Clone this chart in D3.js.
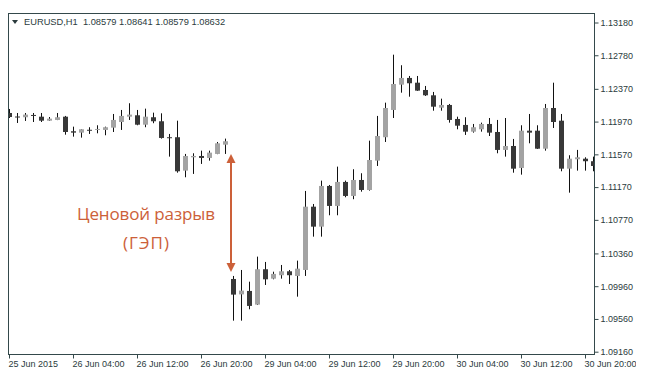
<!DOCTYPE html>
<head>
    <meta charset="utf-8">
    <title>EURUSD H1 gap</title>
    <script src="https://d3js.org/d3.v7.min.js"></script>
    <style>
        body { margin: 0; background: #fff; }
        svg { display: block; }
        .axis text { font-family: "Liberation Sans", Arial, sans-serif; font-size: 9px; fill: #2b3b3d; }
        .axis line { stroke: #34494b; }
    </style>
</head>
<body>
    <svg></svg>
</body>

<script>
    var vWidth = 660;
    var vHeight = 384;

    // EURUSD H1, 25 Jun 2015 20:00 .. 30 Jun 2015 21:00 (one bar per hour, weekend skipped)
    var opens = [
        1.12075, 1.12032, 1.12023, 1.12051, 1.12030, 1.11981, 1.11990, 1.12030, 1.11852, 1.11835,
        1.11870, 1.11868, 1.11868, 1.11896, 1.11965, 1.12030, 1.12047, 1.11932, 1.12023, 1.11974,
        1.11779, 1.11779, 1.11371, 1.11534, 1.11550, 1.11526, 1.11575, 1.11688, 1.10048, 1.09860,
        1.09902, 1.09735, 1.10167, 1.10052, 1.10094, 1.10142, 1.10085, 1.10158, 1.10931, 1.10687,
        1.11184, 1.10940, 1.11233, 1.11062, 1.11257, 1.11135, 1.11493, 1.11779, 1.12112, 1.12421,
        1.12503, 1.12445, 1.12356, 1.12291, 1.12140, 1.12173, 1.12002, 1.11929, 1.11847, 1.11876,
        1.11941, 1.11843, 1.11624, 1.11672, 1.11404, 1.11859, 1.11859, 1.11639, 1.12136, 1.11981,
        1.11395, 1.11510, 1.11517, 1.11486];
    var highs = [
        1.12124, 1.12075, 1.12075, 1.12075, 1.12075, 1.12026, 1.12075, 1.12039, 1.11908, 1.11876,
        1.11901, 1.11925, 1.11908, 1.12063, 1.12112, 1.12194, 1.12112, 1.12128, 1.12079, 1.12071,
        1.11819, 1.11981, 1.11575, 1.11583, 1.11615, 1.11615, 1.11721, 1.11762, 1.10085, 1.10158,
        1.10015, 1.10321, 1.10256, 1.10137, 1.10219, 1.10158, 1.10272, 1.11123, 1.10964, 1.11249,
        1.11196, 1.11420, 1.11249, 1.11388, 1.11339, 1.11737, 1.12039, 1.12201, 1.12787, 1.12658,
        1.12527, 1.12527, 1.12405, 1.12332, 1.12250, 1.12185, 1.12030, 1.12023, 1.11941, 1.11957,
        1.12014, 1.11990, 1.12014, 1.11758, 1.11925, 1.12063, 1.11925, 1.12185, 1.12445, 1.12063,
        1.11559, 1.11624, 1.11534, 1.11542];
    var lows = [
        1.12014, 1.11953, 1.11978, 1.11965, 1.11965, 1.11978, 1.11988, 1.11810, 1.11786, 1.11774,
        1.11819, 1.11827, 1.11803, 1.11843, 1.11868, 1.11990, 1.11925, 1.11901, 1.11950, 1.11762,
        1.11542, 1.11346, 1.11290, 1.11331, 1.11453, 1.11493, 1.11572, 1.11575, 1.09539, 1.09539,
        1.09678, 1.09730, 1.09975, 1.10044, 1.10052, 1.09987, 1.09832, 1.10085, 1.10565, 1.10565,
        1.10826, 1.10826, 1.11046, 1.11022, 1.11114, 1.11127, 1.11428, 1.11721, 1.12014, 1.12323,
        1.12274, 1.12345, 1.12283, 1.12103, 1.12103, 1.11957, 1.11876, 1.11807, 1.11835, 1.11847,
        1.11794, 1.11583, 1.11542, 1.11346, 1.11322, 1.11705, 1.11636, 1.11615, 1.11892, 1.11363,
        1.11102, 1.11371, 1.11371, 1.11363];
    var closes = [
        1.12026, 1.12028, 1.12055, 1.12047, 1.11981, 1.12006, 1.12023, 1.11843, 1.11835, 1.11876,
        1.11866, 1.11880, 1.11901, 1.11990, 1.12039, 1.12055, 1.11932, 1.12030, 1.11974, 1.11770,
        1.11775, 1.11363, 1.11550, 1.11550, 1.11526, 1.11591, 1.11705, 1.11730, 1.09857, 1.09906,
        1.09719, 1.10167, 1.10044, 1.10110, 1.10142, 1.10094, 1.10174, 1.10931, 1.10687, 1.11184,
        1.10940, 1.11233, 1.11062, 1.11257, 1.11135, 1.11501, 1.11794, 1.12136, 1.12429, 1.12503,
        1.12438, 1.12348, 1.12291, 1.12152, 1.12173, 1.11990, 1.11920, 1.11847, 1.11901, 1.11941,
        1.11835, 1.11624, 1.11672, 1.11395, 1.11859, 1.11835, 1.11639, 1.12136, 1.11965, 1.11395,
        1.11517, 1.11534, 1.11486, 1.11428];

    // one time label every 8 bars
    var timeLabels = ['25 Jun 2015', '26 Jun 04:00', '26 Jun 12:00', '26 Jun 20:00', '29 Jun 04:00',
        '29 Jun 12:00', '29 Jun 20:00', '30 Jun 04:00', '30 Jun 12:00', '30 Jun 20:00'];
    var priceTicks = [1.13180, 1.12780, 1.12370, 1.11970, 1.11570, 1.11170, 1.10770,
        1.10360, 1.09960, 1.09560, 1.09160];

    var header = 'EURUSD,H1  1.08579 1.08641 1.08579 1.08632';
    var noteLines = ['Ценовой разрыв', '(ГЭП)'];
    var gapBar = 28; // first bar after the weekend

    var frame = { left: 8, top: 13, right: 594, bottom: 354 };
    var bullColor = '#a3a3a3';
    var bearColor = '#383838';
    var noteColor = '#cc6039';

    var svg = d3.select('svg').attr('width', vWidth).attr('height', vHeight);

    var vBars = opens.map(function (o, i) {
        return { i: i, o: o, h: highs[i], l: lows[i], c: closes[i] };
    });

    var x = d3.scaleLinear().domain([0, 73]).range([9, 593]);
    var y = d3.scaleLinear().domain([1.0916, 1.1318]).range([351.7, 22.5]);

    svg.append('clipPath').attr('id', 'plot')
        .append('rect')
        .attr('x', frame.left).attr('y', frame.top)
        .attr('width', frame.right - frame.left).attr('height', frame.bottom - frame.top);

    svg.append('clipPath').attr('id', 'labels')
        .append('rect').attr('x', 0).attr('y', 0).attr('width', 636).attr('height', vHeight);

    // Candles
    var g = svg.append('g').attr('clip-path', 'url(#plot)');
    var vCandles = g.selectAll('g').data(vBars).enter().append('g');

    vCandles.append('line')
        .attr('x1', function (d) { return x(d.i) + 0.5; })
        .attr('x2', function (d) { return x(d.i) + 0.5; })
        .attr('y1', function (d) { return y(d.h); })
        .attr('y2', function (d) { return y(d.l); })
        .style('stroke', '#111')
        .style('stroke-width', 1);

    vCandles.append('rect')
        .attr('x', function (d) { return x(d.i) - 2; })
        .attr('width', 5)
        .attr('y', function (d) { return y(Math.max(d.o, d.c)); })
        .attr('height', function (d) { return Math.max(1, y(Math.min(d.o, d.c)) - y(Math.max(d.o, d.c))); })
        .style('fill', function (d) { return d.c > d.o ? bullColor : bearColor; });

    // Axes
    var xAxis = d3.axisBottom(x)
        .tickValues(d3.range(0, 73, 8))
        .tickFormat(function (d) { return timeLabels[d / 8]; })
        .tickSize(4).tickPadding(2);
    var gx = svg.append('g').attr('class', 'axis')
        .attr('transform', 'translate(0,' + (frame.bottom + 0.5) + ')')
        .attr('clip-path', 'url(#labels)')
        .call(xAxis);
    gx.select('.domain').remove();
    gx.selectAll('text').attr('text-anchor', 'start').attr('dx', '-1');

    var yAxis = d3.axisRight(y)
        .tickValues(priceTicks)
        .tickFormat(d3.format('.5f'))
        .tickSize(4).tickPadding(2);
    var gy = svg.append('g').attr('class', 'axis')
        .attr('transform', 'translate(' + (frame.right + 0.5) + ',0)')
        .call(yAxis);
    gy.select('.domain').remove();

    // Frame
    svg.append('rect')
        .attr('x', frame.left + 0.5).attr('y', frame.top + 0.5)
        .attr('width', frame.right - frame.left).attr('height', frame.bottom - frame.top)
        .style('fill', 'none').style('stroke', '#34494b');

    // Header
    svg.append('path')
        .attr('d', 'M12,20 L18,20 L15,24 Z')
        .style('fill', '#2b3b3d');
    svg.append('text')
        .attr('x', 24).attr('y', 25)
        .style('font-family', '"Liberation Sans", Arial, sans-serif')
        .style('font-size', '9.3px')
        .style('fill', '#2b3b3d')
        .style('white-space', 'pre')
        .text(header);

    // Gap annotation: arrow between last Friday low and first Monday high
    var ax = (x(gapBar - 1) + x(gapBar)) / 2 + 2;
    var aTop = y(lows[gapBar - 1]);
    var aBot = y(highs[gapBar]) - 4;
    svg.append('line')
        .attr('x1', ax).attr('x2', ax)
        .attr('y1', aTop + 6).attr('y2', aBot - 6)
        .style('stroke', noteColor).style('stroke-width', 2);
    svg.append('path')
        .attr('d', 'M' + ax + ',' + aTop + ' l4.5,9 l-9,0 Z')
        .style('fill', noteColor);
    svg.append('path')
        .attr('d', 'M' + ax + ',' + aBot + ' l4.5,-9 l-9,0 Z')
        .style('fill', noteColor);

    svg.selectAll('.note').data(noteLines).enter().append('text')
        .attr('class', 'note')
        .attr('x', 146)
        .attr('y', function (d, i) { return 220 + i * 29; })
        .attr('text-anchor', 'middle')
        .attr('textLength', function (d, i) { return i === 0 ? 138 : 46; })
        .attr('lengthAdjust', 'spacing')
        .style('font-family', '"Open Sans", sans-serif')
        .style('font-size', '17px')
        .style('fill', noteColor)
        .text(function (d) { return d; });
</script>
